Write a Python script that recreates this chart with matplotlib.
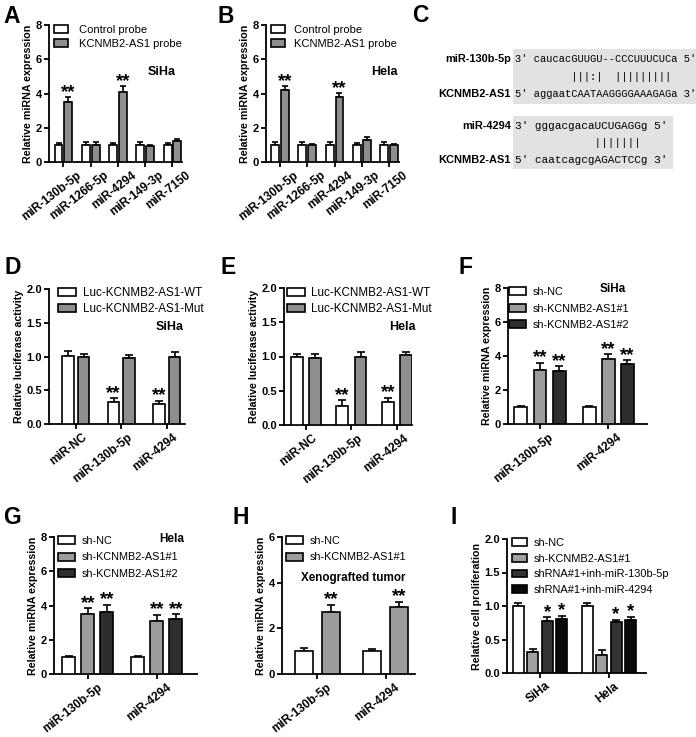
import numpy as np
import matplotlib
matplotlib.use('Agg')
import matplotlib.pyplot as plt
from matplotlib.patches import Rectangle
from matplotlib.transforms import ScaledTranslation, blended_transform_factory

plt.rcParams['font.family'] = ['Liberation Sans', 'DejaVu Sans']

W, H = 696, 737

# ---- data ----
a_cats = ['miR-130b-5p', 'miR-1266-5p', 'miR-4294', 'miR-149-3p', 'miR-7150']
a_ctrl = [1.0, 1.02, 1.0, 1.02, 1.0]
a_ctrl_err = [0.12, 0.15, 0.1, 0.15, 0.12]
a_probe = [3.5, 1.02, 4.08, 0.95, 1.25]
a_probe_err = [0.27, 0.15, 0.35, 0.05, 0.1]

b_cats = a_cats
b_ctrl = [1.0, 1.0, 1.0, 1.0, 1.0]
b_ctrl_err = [0.18, 0.15, 0.18, 0.1, 0.16]
b_probe = [4.2, 1.0, 3.82, 1.3, 1.0]
b_probe_err = [0.23, 0.08, 0.2, 0.18, 0.06]

luc_cats = ['miR-NC', 'miR-130b-5p', 'miR-4294']
d_wt = [1.01, 0.33, 0.3]
d_wt_err = [0.07, 0.05, 0.04]
d_mut = [1.0, 0.98, 1.0]
d_mut_err = [0.03, 0.04, 0.07]

e_wt = [1.0, 0.28, 0.34]
e_wt_err = [0.04, 0.08, 0.06]
e_mut = [0.98, 1.0, 1.02]
e_mut_err = [0.06, 0.06, 0.05]

sh_cats = ['miR-130b-5p', 'miR-4294']
f_nc = [1.0, 1.0]
f_nc_err = [0.05, 0.06]
f_sh1 = [3.2, 3.84]
f_sh1_err = [0.4, 0.27]
f_sh2 = [3.1, 3.52]
f_sh2_err = [0.3, 0.22]

g_nc = [1.0, 1.0]
g_nc_err = [0.06, 0.05]
g_sh1 = [3.52, 3.12]
g_sh1_err = [0.32, 0.32]
g_sh2 = [3.62, 3.22]
g_sh2_err = [0.42, 0.26]

h_nc = [1.02, 1.0]
h_nc_err = [0.14, 0.08]
h_sh1 = [2.72, 2.92]
h_sh1_err = [0.3, 0.25]

i_cats = ['SiHa', 'Hela']
i_nc = [1.0, 1.0]
i_nc_err = [0.05, 0.04]
i_sh1 = [0.31, 0.27]
i_sh1_err = [0.05, 0.07]
i_inh130 = [0.78, 0.76]
i_inh130_err = [0.05, 0.03]
i_inh4294 = [0.8, 0.79]
i_inh4294_err = [0.05, 0.05]

fig = plt.figure(figsize=(W / 100, H / 100), dpi=100)


def px_axes(l, t, r, b):
    return fig.add_axes([l / W, 1 - b / H, (r - l) / W, (b - t) / H])


def ftext(x, y, s, **kw):
    fig.text(x / W, 1 - y / H, s, **kw)


def bar_panel(box, cats, series, errs, colors, labels, ylim, yticks, fmt,
              width, step, xlim, stars, ylabel, leg, star_size=13.5, capsize=3,
              lab_dx=6):
    ax = px_axes(*box)
    n = len(series)
    x0 = np.arange(len(cats))
    for j in range(n):
        xs = x0 + (j - (n - 1) / 2) * step
        ax.bar(xs, series[j], width, color=colors[j], edgecolor='black',
               linewidth=1.2, label=labels[j], zorder=3)
        ax.errorbar(xs, series[j], yerr=[np.zeros(len(cats)), errs[j]],
                    fmt='none', ecolor='black', elinewidth=1.2, capsize=capsize,
                    capthick=1.2, zorder=2)
    for j, i, s in stars:
        xs = i + (j - (n - 1) / 2) * step
        ax.annotate(s, (xs, series[j][i] + errs[j][i]), xytext=(0, -2.5),
                    textcoords='offset points', ha='center', va='bottom',
                    fontsize=star_size, fontweight='bold')
    ax.set_xlim(*xlim)
    ax.set_ylim(*ylim)
    ax.set_yticks(yticks)
    ax.set_yticklabels([fmt.format(v) for v in yticks], fontweight='bold', fontsize=8)
    ax.set_xticks(x0)
    ax.set_xticklabels([])
    # rotated category labels, nudged right like the original
    tr = blended_transform_factory(ax.transData, ax.transAxes) + \
        ScaledTranslation(lab_dx / 100, -7 / 100, fig.dpi_scale_trans)
    for i, c in zip(x0, cats):
        ax.text(i, 0, c, transform=tr, rotation=38, ha='right', va='top',
                rotation_mode='anchor', fontweight='bold', fontsize=8.6)
    for side in ['top', 'right']:
        ax.spines[side].set_visible(False)
    for side in ['left', 'bottom']:
        ax.spines[side].set_linewidth(1.3)
    ax.tick_params(direction='out', length=3.5, width=1.3, pad=1.5)
    ax.set_ylabel(ylabel, fontweight='bold', fontsize=7.7, labelpad=2)
    lx, ly, fs, ls, hl, hh, tp = leg
    ax.legend(loc='upper left', bbox_to_anchor=(lx / W, 1 - ly / H),
              bbox_transform=fig.transFigure, frameon=False, fontsize=fs,
              labelspacing=ls, handlelength=hl, handleheight=hh,
              handletextpad=tp, borderpad=0, borderaxespad=0)
    return ax


grey_a = '#8e8e8e'
grey_f = '#9c9c9c'
dark_f = '#2e2e2e'

# A
bar_panel((49, 25, 182, 162), a_cats, [a_ctrl, a_probe], [a_ctrl_err, a_probe_err],
          ['white', grey_a], ['Control probe', 'KCNMB2-AS1 probe'],
          (0, 8), [0, 2, 4, 6, 8], '{:g}', 0.29, 0.36, (-0.53, 4.35),
          [(1, 0, '**'), (1, 2, '**')], 'Relative miRNA expression',
          (54, 25, 8, 0.35, 1.3, 0.68, 0.95), capsize=2.5, lab_dx=13)
ftext(162, 72, 'SiHa', ha='center', va='center', fontweight='bold', fontsize=9)

# B
bar_panel((266, 25, 399, 162), b_cats, [b_ctrl, b_probe], [b_ctrl_err, b_probe_err],
          ['white', grey_a], ['Control probe', 'KCNMB2-AS1 probe'],
          (0, 8), [0, 2, 4, 6, 8], '{:g}', 0.29, 0.36, (-0.51, 4.36),
          [(1, 0, '**'), (1, 2, '**')], 'Relative miRNA expression',
          (271, 25, 8, 0.35, 1.3, 0.68, 0.8), capsize=2.5, lab_dx=13)
ftext(384, 72, 'Hela', ha='center', va='center', fontweight='bold', fontsize=9)

# D
bar_panel((49, 289, 185, 424), luc_cats, [d_wt, d_mut], [d_wt_err, d_mut_err],
          ['white', grey_a], ['Luc-KCNMB2-AS1-WT', 'Luc-KCNMB2-AS1-Mut'],
          (0, 2), [0, 0.5, 1.0, 1.5, 2.0], '{:.1f}', 0.25, 0.34, (-0.59, 2.4),
          [(0, 1, '**'), (0, 2, '**')], 'Relative luciferase activity',
          (58, 287, 8.4, 0.35, 1.5, 0.72, 0.6))
ftext(170, 327, 'SiHa', ha='center', va='center', fontweight='bold', fontsize=9)

# E
bar_panel((284, 288, 412, 425), luc_cats, [e_wt, e_mut], [e_wt_err, e_mut_err],
          ['white', grey_a], ['Luc-KCNMB2-AS1-WT', 'Luc-KCNMB2-AS1-Mut'],
          (0, 2), [0, 0.5, 1.0, 1.5, 2.0], '{:.1f}', 0.26, 0.4, (-0.48, 2.33),
          [(0, 1, '**'), (0, 2, '**')], 'Relative luciferase activity',
          (287, 287, 8.4, 0.35, 1.5, 0.72, 0.6))
ftext(402, 327, 'Hela', ha='center', va='center', fontweight='bold', fontsize=9)

# F
bar_panel((508, 288, 647, 424), sh_cats, [f_nc, f_sh1, f_sh2],
          [f_nc_err, f_sh1_err, f_sh2_err], ['white', grey_f, dark_f],
          ['sh-NC', 'sh-KCNMB2-AS1#1', 'sh-KCNMB2-AS1#2'],
          (0, 8), [0, 2, 4, 6, 8], '{:g}', 0.19, 0.28, (-0.47, 1.57),
          [(1, 0, '**'), (2, 0, '**'), (1, 1, '**'), (2, 1, '**')],
          'Relative miRNA expression', (509, 287, 7.8, 0.6, 1.6, 0.78, 0.55),
          lab_dx=8)
ftext(613, 289, 'SiHa', ha='center', va='center', fontweight='bold', fontsize=8.5)

# G
bar_panel((54, 537, 197, 674), sh_cats, [g_nc, g_sh1, g_sh2],
          [g_nc_err, g_sh1_err, g_sh2_err], ['white', grey_f, dark_f],
          ['sh-NC', 'sh-KCNMB2-AS1#1', 'sh-KCNMB2-AS1#2'],
          (0, 8), [0, 2, 4, 6, 8], '{:g}', 0.19, 0.275, (-0.49, 1.58),
          [(1, 0, '**'), (2, 0, '**'), (1, 1, '**'), (2, 1, '**')],
          'Relative miRNA expression', (58, 536, 7.8, 0.6, 1.6, 0.78, 0.55),
          lab_dx=9)
ftext(172, 539, 'Hela', ha='center', va='center', fontweight='bold', fontsize=8.5)

# H
bar_panel((282, 537, 415, 674), sh_cats, [h_nc, h_sh1], [h_nc_err, h_sh1_err],
          ['white', grey_f], ['sh-NC', 'sh-KCNMB2-AS1#1'],
          (0, 6), [0, 2, 4, 6], '{:g}', 0.265, 0.4, (-0.52, 1.43),
          [(1, 0, '**'), (1, 1, '**')], 'Relative miRNA expression',
          (286, 536, 7.8, 0.6, 1.6, 0.78, 0.55), lab_dx=9)
ftext(353, 578, 'Xenografted tumor', ha='center', va='center', fontweight='bold', fontsize=8.4)

# I
bar_panel((507, 539, 646, 673), i_cats, [i_nc, i_sh1, i_inh130, i_inh4294],
          [i_nc_err, i_sh1_err, i_inh130_err, i_inh4294_err],
          ['white', '#a0a0a0', '#333333', '#0a0a0a'],
          ['sh-NC', 'sh-KCNMB2-AS1#1', 'shRNA#1+inh-miR-130b-5p', 'shRNA#1+inh-miR-4294'],
          (0, 2), [0, 0.5, 1.0, 1.5, 2.0], '{:.1f}', 0.16, 0.21, (-0.48, 1.54),
          [(2, 0, '*'), (3, 0, '*'), (2, 1, '*'), (3, 1, '*')],
          'Relative cell proliferation', (512, 538, 7.9, 0.52, 1.4, 0.72, 0.6),
          lab_dx=5)

# C: sequence alignment
fig.add_artist(Rectangle((513 / W, 1 - 104 / H), (696 - 513) / W, 55 / H,
                         transform=fig.transFigure, facecolor='#e2e2e2', edgecolor='none'))
fig.add_artist(Rectangle((513 / W, 1 - 169 / H), (673 - 513) / W, 53 / H,
                         transform=fig.transFigure, facecolor='#e2e2e2', edgecolor='none'))
mono = 'Liberation Mono'
seq_rows = [
    (59, 'miR-130b-5p', "3' caucacGUUGU--CCCUUUCUCa 5'", 7.5),
    (77, '', "         |||:|  |||||||||", 7.5),
    (94, 'KCNMB2-AS1', "5' aggaatCAATAAGGGGAAAGAGa 3'", 7.5),
    (126, 'miR-4294', "3' gggacgacaUCUGAGGg 5'", 8.0),
    (143, '', "            |||||||", 8.0),
    (160, 'KCNMB2-AS1', "5' caatcagcgAGACTCCg 3'", 8.0),
]
for y, lab, seq, fs in seq_rows:
    if lab:
        ftext(511, y, lab, ha='right', va='center', fontweight='bold', fontsize=7.9)
    ftext(515, y, seq, ha='left', va='center', family=mono, fontsize=fs)

# panel letters
for lab, x, y in [('A', 3, 5), ('B', 218, 5), ('C', 412, 4), ('D', 4, 256),
                  ('E', 220, 256), ('F', 458, 256), ('G', 3, 506),
                  ('H', 232, 506), ('I', 450, 506)]:
    ftext(x, y, lab, ha='left', va='top', fontweight='bold', fontsize=16.5)

fig.savefig('out.png', dpi=100)
